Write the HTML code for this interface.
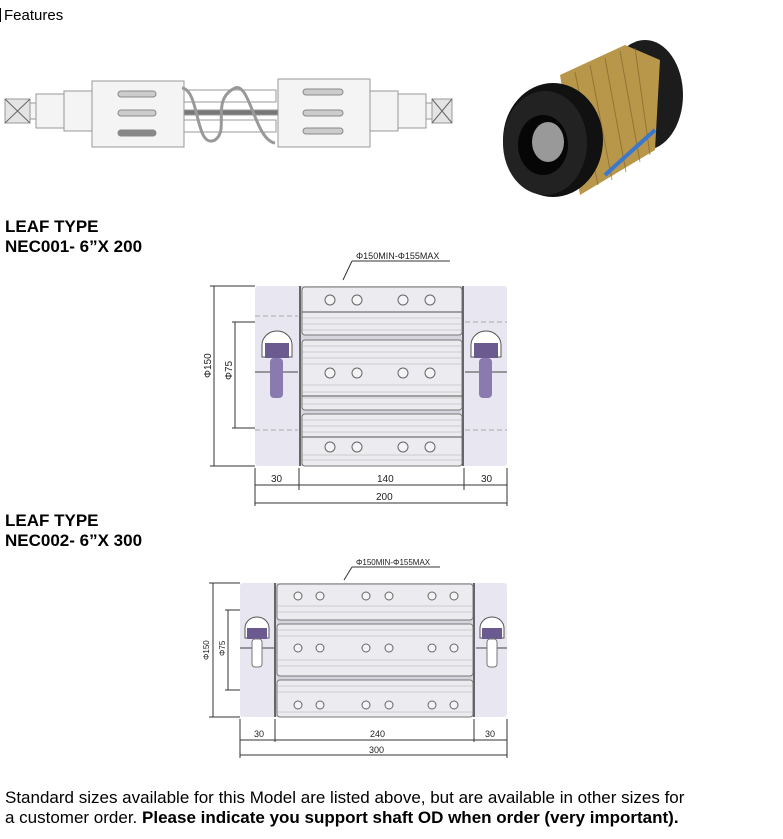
<!DOCTYPE html>
<html><head><meta charset="utf-8"><style>
html,body{margin:0;padding:0;background:#fff;width:783px;height:839px;overflow:hidden;font-family:"Liberation Sans",Arial,sans-serif;}
.t{position:absolute;color:#000;white-space:nowrap}
</style></head><body>
<div class="t" style="left:0;top:7px;font-size:15px;"><span style="display:inline-block;width:1px;height:14px;background:#000;vertical-align:-2px;margin-right:3px"></span>Features</div>
<div class="t" style="left:5px;top:217px;font-size:17px;font-weight:bold;line-height:20px">LEAF TYPE<br>NEC001- 6”X 200</div>
<div class="t" style="left:5px;top:511px;font-size:17px;font-weight:bold;line-height:20px">LEAF TYPE<br>NEC002- 6”X 300</div>
<div class="t" style="left:5px;top:788px;font-size:17px;line-height:20px">Standard sizes available for this Model are listed above, but are available in other sizes for<br>a customer order. <b>Please indicate you support shaft OD when order (very important).</b></div>
<svg width="783" height="839" style="position:absolute;left:0;top:0" xmlns="http://www.w3.org/2000/svg" font-family="Liberation Sans, Arial, sans-serif">
<!-- top drawing -->
<g stroke="#999" stroke-width="1" fill="#f4f4f4">
<rect x="5" y="99" width="25" height="24" fill="#e4e4e4"/>
<path d="M5 99 L30 123 M30 99 L5 123" stroke="#666"/>
<rect x="30" y="103" width="6" height="16"/>
<rect x="36" y="94" width="28" height="34"/>
<rect x="64" y="91" width="28" height="40"/>
<rect x="92" y="81" width="92" height="66"/>
<rect x="184" y="90" width="92" height="12" fill="#fff"/>
<rect x="184" y="120" width="92" height="12" fill="#fff"/>
<rect x="184" y="110" width="95" height="5" fill="#777"/>
<rect x="278" y="79" width="92" height="68"/>
<rect x="370" y="91" width="28" height="40"/>
<rect x="398" y="94" width="28" height="34"/>
<rect x="426" y="103" width="6" height="16"/>
<rect x="432" y="99" width="20" height="24" fill="#e4e4e4"/>
<path d="M432 99 L452 123 M452 99 L432 123" stroke="#666"/>
<path d="M182 88 C200 90 195 150 215 140 C230 130 210 100 235 88 C250 82 255 140 275 143" fill="none" stroke="#999" stroke-width="3"/>
<g fill="#ccc" stroke="#888"><rect x="118" y="91" width="38" height="6" rx="3"/><rect x="118" y="110" width="38" height="6" rx="3"/><rect x="118" y="130" width="38" height="6" rx="3" fill="#888"/>
<rect x="303" y="89" width="40" height="6" rx="3"/><rect x="303" y="110" width="40" height="6" rx="3"/><rect x="303" y="128" width="40" height="6" rx="3"/></g>
</g>
<!-- photo -->
<g>
<ellipse cx="645" cy="95" rx="38" ry="55" fill="#1c1c1c"/>
<path d="M560 75 L625 45 L660 60 L655 150 L580 195 Z" fill="#b8964a"/>
<g stroke="#7a6028" stroke-width="1" opacity="0.6">
<path d="M575 72 L598 185 M590 65 L612 180 M605 58 L626 172 M620 51 L640 162 M635 48 L650 155"/></g>
<path d="M605 175 L655 130" stroke="#3a78d0" stroke-width="4"/>
<ellipse cx="553" cy="140" rx="50" ry="57" fill="#111"/>
<ellipse cx="545" cy="143" rx="42" ry="52" fill="#222"/>
<ellipse cx="543" cy="145" rx="25" ry="30" fill="#060606"/>
<ellipse cx="548" cy="142" rx="16" ry="20" fill="#999"/>
</g>
<!-- drawing 1 -->
<g font-size="10" fill="#222">
<text x="356" y="259" font-size="9">Φ150MIN-Φ155MAX</text>
<path d="M352 261 H450 M352 261 L343 280" stroke="#333" fill="none"/>
<rect x="255" y="286" width="252" height="180" rx="3" fill="#e8e6f0"/>
<rect x="300" y="286" width="163" height="180" fill="#d6d5de"/>
<g fill="#ececf0" stroke="#777"><rect x="302" y="287" width="160" height="48" rx="3"/><rect x="302" y="340" width="160" height="70" rx="3"/><rect x="302" y="414" width="160" height="52" rx="3"/></g>
<g stroke="#aaa" stroke-width="0.6">
<path d="M302 318H462M302 324H462M302 330H462M302 346H462M302 352H462M302 358H462M302 364H462M302 385H462M302 392H462M302 398H462M302 404H462M302 420H462M302 426H462M302 432H462M302 455H462M302 460H462"/></g>
<path d="M302 312H462M302 396H462M302 437H462" stroke="#555"/>
<path d="M300 286V466M463 286V466" stroke="#666" stroke-width="2"/>
<g fill="#f4f4f6" stroke="#666"><circle cx="330" cy="300" r="5"/><circle cx="357" cy="300" r="5"/><circle cx="403" cy="300" r="5"/><circle cx="430" cy="300" r="5"/>
<circle cx="330" cy="373" r="5"/><circle cx="357" cy="373" r="5"/><circle cx="403" cy="373" r="5"/><circle cx="430" cy="373" r="5"/>
<circle cx="330" cy="447" r="5"/><circle cx="357" cy="447" r="5"/><circle cx="403" cy="447" r="5"/><circle cx="430" cy="447" r="5"/></g>
<path d="M255 372H298M465 372H507" stroke="#444"/>
<path d="M255 316H298M465 322H507M255 430H298M465 430H507" stroke="#aaa" stroke-dasharray="5 3"/>
<g><path d="M262 357V345A15 14 0 0 1 292 345V357Z" fill="#fff" stroke="#555"/><rect x="265" y="343" width="24" height="15" fill="#6a5a90"/><rect x="270" y="358" width="13" height="40" rx="4" fill="#8a7ab0"/></g>
<g><path d="M471 357V345A15 14 0 0 1 501 345V357Z" fill="#fff" stroke="#555"/><rect x="474" y="343" width="24" height="15" fill="#6a5a90"/><rect x="479" y="358" width="13" height="40" rx="4" fill="#8a7ab0"/></g>
<path d="M214 286V466M210 286H255M210 466H255M235 322V428M232 322H255M232 428H255" stroke="#333" fill="none"/>
<text transform="translate(211 378) rotate(-90)">Φ150</text>
<text transform="translate(232 380) rotate(-90)">Φ75</text>
<path d="M255 468V506M299 468V490M464 468V490M507 468V506M255 485H507M255 503H507" stroke="#333" fill="none"/>
<text x="271" y="482">30</text><text x="377" y="482">140</text><text x="481" y="482">30</text><text x="376" y="500">200</text>
</g>
<!-- drawing 2 -->
<g font-size="9" fill="#222">
<text x="356" y="565" font-size="8">Φ150MIN-Φ155MAX</text>
<path d="M352 567H440M352 567L344 580" stroke="#333" fill="none"/>
<rect x="240" y="583" width="267" height="134" rx="3" fill="#e8e6f0"/>
<rect x="275" y="583" width="200" height="134" fill="#d6d5de"/>
<g fill="#ececf0" stroke="#777"><rect x="277" y="584" width="196" height="36" rx="3"/><rect x="277" y="624" width="196" height="52" rx="3"/><rect x="277" y="680" width="196" height="37" rx="3"/></g>
<g stroke="#aaa" stroke-width="0.6"><path d="M277 606H473M277 612H473M277 630H473M277 636H473M277 660H473M277 666H473M277 686H473M277 692H473M277 712H473"/></g>
<path d="M275 583V717M474 583V717" stroke="#666" stroke-width="2"/>
<g fill="#f4f4f6" stroke="#666">
<circle cx="298" cy="596" r="4"/><circle cx="320" cy="596" r="4"/><circle cx="366" cy="596" r="4"/><circle cx="389" cy="596" r="4"/><circle cx="432" cy="596" r="4"/><circle cx="454" cy="596" r="4"/>
<circle cx="298" cy="648" r="4"/><circle cx="320" cy="648" r="4"/><circle cx="366" cy="648" r="4"/><circle cx="389" cy="648" r="4"/><circle cx="432" cy="648" r="4"/><circle cx="454" cy="648" r="4"/>
<circle cx="298" cy="705" r="4"/><circle cx="320" cy="705" r="4"/><circle cx="366" cy="705" r="4"/><circle cx="389" cy="705" r="4"/><circle cx="432" cy="705" r="4"/><circle cx="454" cy="705" r="4"/></g>
<path d="M240 648H274M476 648H507" stroke="#444"/>
<g><path d="M245 638V628A12 11 0 0 1 269 628V638Z" fill="#fff" stroke="#555"/><rect x="247" y="628" width="20" height="11" fill="#6a5a90"/><rect x="252" y="639" width="10" height="28" rx="3" fill="#fff" stroke="#777"/></g>
<g><path d="M480 638V628A12 11 0 0 1 504 628V638Z" fill="#fff" stroke="#555"/><rect x="482" y="628" width="20" height="11" fill="#6a5a90"/><rect x="487" y="639" width="10" height="28" rx="3" fill="#fff" stroke="#777"/></g>
<path d="M213 583V717M209 583H240M209 717H240M228 610V690M225 610H240M225 690H240" stroke="#333" fill="none"/>
<text transform="translate(209 660) rotate(-90)" font-size="8">Φ150</text>
<text transform="translate(225 656) rotate(-90)" font-size="8">Φ75</text>
<path d="M240 719V758M275 719V742M474 719V742M507 719V758M240 740H507M240 755H507" stroke="#333" fill="none"/>
<text x="254" y="737">30</text><text x="370" y="737">240</text><text x="485" y="737">30</text><text x="369" y="753">300</text>
</g>
</svg>
</body></html>
